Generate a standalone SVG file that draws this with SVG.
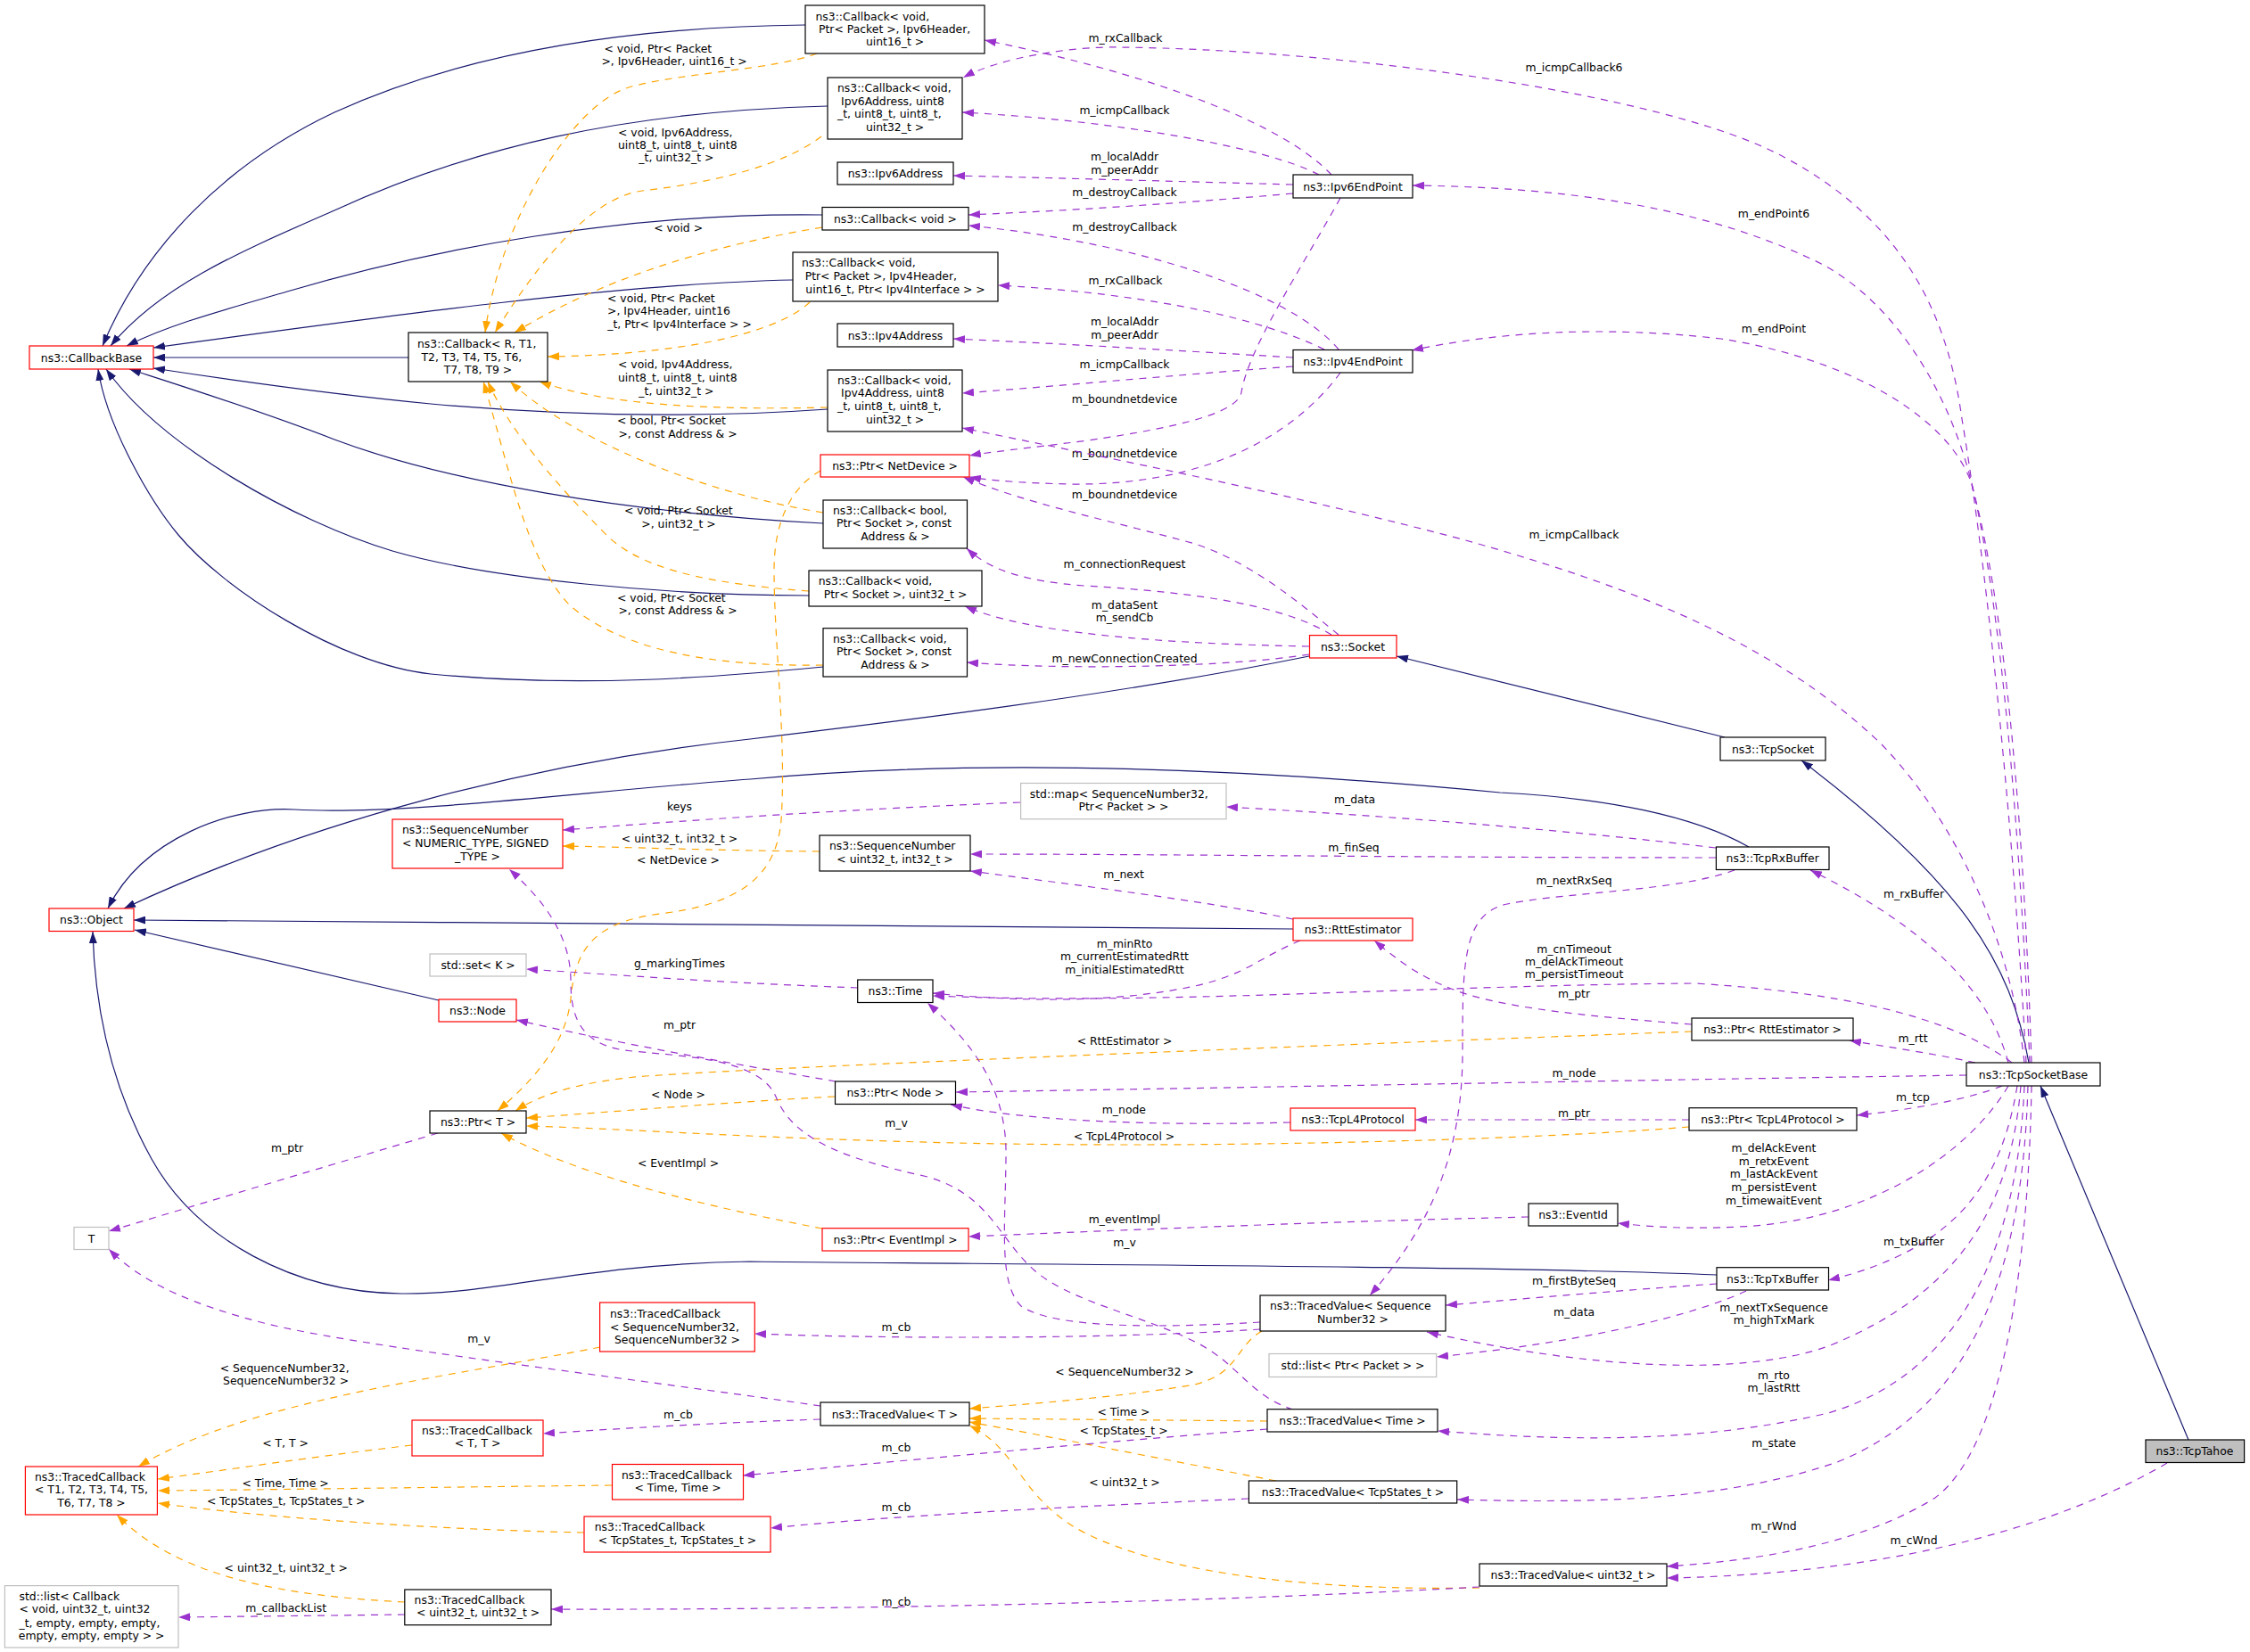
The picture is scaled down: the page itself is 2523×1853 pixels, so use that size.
<svg xmlns="http://www.w3.org/2000/svg" width="2523" height="1853" viewBox="0 0 2523 1853">
<style>
text{font-family:"DejaVu Sans","Liberation Sans",sans-serif;font-size:12.4px;dominant-baseline:central;fill:#000}
.m{text-anchor:middle}
.n rect{fill:#fff;stroke:#000;stroke-width:1.2}
.r rect{stroke:#ff0000}
.g rect{stroke:#bfbfbf}
.inh{fill:none;stroke:#191970;stroke-width:1.2;marker-end:url(#aN)}
.use{fill:none;stroke:#9a32cd;stroke-width:1.2;stroke-dasharray:8 7;marker-end:url(#aP)}
.tpl{fill:none;stroke:#ffa500;stroke-width:1.2;stroke-dasharray:8 7;marker-end:url(#aO)}
</style>
<defs>
<marker id="aN" viewBox="0 0 13 9" refX="13" refY="4.5" markerWidth="13" markerHeight="9" orient="auto" markerUnits="userSpaceOnUse"><path d="M0,0 L13,4.5 L0,9 z" fill="#191970"/></marker>
<marker id="aP" viewBox="0 0 13 9" refX="13" refY="4.5" markerWidth="13" markerHeight="9" orient="auto" markerUnits="userSpaceOnUse"><path d="M0,0 L13,4.5 L0,9 z" fill="#9a32cd"/></marker>
<marker id="aO" viewBox="0 0 13 9" refX="13" refY="4.5" markerWidth="13" markerHeight="9" orient="auto" markerUnits="userSpaceOnUse"><path d="M0,0 L13,4.5 L0,9 z" fill="#ffa500"/></marker>
</defs>
<rect width="2523" height="1853" fill="#fff"/>
<g id="connectors">
<!-- inheritance -->
<path class="inh" d="M903,28 C700,30 520,60 375,126 C250,185 160,280 115,388"/>
<path class="inh" d="M928,119 C700,125 530,165 375,236 C270,282 180,320 124,388"/>
<path class="inh" d="M922,241 C700,238 480,280 322,327 C250,348 190,364 142,388"/>
<path class="inh" d="M889,314 C700,318 450,352 172,390"/>
<path class="inh" d="M458,401 L172,401"/>
<path class="inh" d="M928,459 C800,468 650,468 483,453 C380,443 270,428 172,413"/>
<path class="inh" d="M923,587 C700,575 500,540 375,493 C290,460 210,435 145,414"/>
<path class="inh" d="M907,668 C750,668 550,650 440,618 C330,585 180,500 119,414"/>
<path class="inh" d="M923,748 C800,760 650,772 483,756 C380,745 250,660 200,600 C170,564 120,480 110,414"/>
<path class="inh" d="M1468,736 C1250,780 1000,810 841,829 C600,855 350,920 139,1019"/>
<path class="inh" d="M1961,950 C1900,915 1800,895 1682,889 C1400,862 1100,850 841,874 C650,888 450,915 330,908 C260,904 160,940 121,1019"/>
<path class="inh" d="M1450,1042 C1100,1040 600,1035 150,1032"/>
<path class="inh" d="M492,1122 L151,1043"/>
<path class="inh" d="M1925,1430 C1700,1420 1100,1418 841,1415 C650,1418 560,1452 450,1451 C330,1450 220,1390 170,1300 C120,1210 106,1120 104,1045"/>
<path class="inh" d="M1934,827 L1566,736"/>
<path class="inh" d="M2275,1192 C2255,1080 2200,990 2020,853"/>
<path class="inh" d="M2454,1615 L2288,1218"/>
<!-- templates -->
<g><path class="tpl" d="M916,60 C870,78 760,82 705,98 C640,118 560,250 544,373"/><text x="677.5" y="54.4">&lt; void, Ptr&lt; Packet</text><text class="m" x="756" y="68">&gt;, Ipv6Header, uint16_t &gt;</text></g>
<g><path class="tpl" d="M921,153 C880,185 800,205 720,214 C660,222 600,300 555,373"/><text x="693" y="148">&lt; void, Ipv6Address,</text><text x="693" y="162">uint8_t, uint8_t, uint8</text><text class="m" x="758.4" y="176.6">_t, uint32_t &gt;</text></g>
<g><path class="tpl" d="M922,255 C800,275 680,310 577,373"/><text class="m" x="760.6" y="255.4">&lt; void &gt;</text></g>
<g><path class="tpl" d="M908,339 C870,375 760,398 614,400"/><text x="681" y="334.6">&lt; void, Ptr&lt; Packet</text><text x="681" y="348.8">&gt;, Ipv4Header, uint16</text><text class="m" x="762" y="363.4">_t, Ptr&lt; Ipv4Interface &gt; &gt;</text></g>
<g><path class="tpl" d="M928,457 C800,460 680,455 605,428"/><text x="693" y="408">&lt; void, Ipv4Address,</text><text x="693" y="423.7">uint8_t, uint8_t, uint8</text><text class="m" x="758.4" y="438.6">_t, uint32_t &gt;</text></g>
<g><path class="tpl" d="M923,575 C800,555 650,500 572,428"/><text x="692" y="471">&lt; bool, Ptr&lt; Socket</text><text class="m" x="760" y="486">&gt;, const Address &amp; &gt;</text></g>
<g><path class="tpl" d="M907,663 C800,655 720,640 680,600 C620,540 570,480 547,428"/><text x="700" y="572">&lt; void, Ptr&lt; Socket</text><text class="m" x="761" y="587">&gt;, uint32_t &gt;</text></g>
<g><path class="tpl" d="M923,746 C800,748 700,730 640,680 C590,630 570,520 542,428"/><text x="692" y="670.4">&lt; void, Ptr&lt; Socket</text><text class="m" x="760" y="684.6">&gt;, const Address &amp; &gt;</text></g>
<g><path class="tpl" d="M919,955 C800,954 700,950 631,949"/><text class="m" x="762" y="940">&lt; uint32_t, int32_t &gt;</text></g>
<g><path class="tpl" d="M920,528 C890,545 868,580 868,640 C868,720 882,830 876,920 C870,990 820,1015 740,1025 C660,1035 645,1070 640,1120 C635,1170 600,1210 558,1246"/><text class="m" x="760.5" y="964.5">&lt; NetDevice &gt;</text></g>
<g><path class="tpl" d="M1897,1157 C1500,1172 900,1195 724,1207 C660,1212 610,1225 578,1246"/><text class="m" x="1261" y="1167">&lt; RttEstimator &gt;</text></g>
<g><path class="tpl" d="M936,1230 C820,1236 700,1246 590,1254"/><text class="m" x="760.5" y="1227">&lt; Node &gt;</text></g>
<g><path class="tpl" d="M1894,1264 C1700,1280 1300,1290 1000,1280 C800,1274 700,1266 590,1263"/><text class="m" x="1260.4" y="1274">&lt; TcpL4Protocol &gt;</text></g>
<g><path class="tpl" d="M922,1378 C800,1355 650,1320 562,1271"/><text class="m" x="760.5" y="1304.5">&lt; EventImpl &gt;</text></g>
<g><path class="tpl" d="M673,1511 C500,1545 280,1570 155,1645"/><text x="246.7" y="1534.7">&lt; SequenceNumber32,</text><text class="m" x="320.6" y="1548.4">SequenceNumber32 &gt;</text></g>
<g><path class="tpl" d="M462,1621 C350,1634 260,1648 177,1659"/><text class="m" x="320" y="1618">&lt; T, T &gt;</text></g>
<g><path class="tpl" d="M686,1666 C500,1668 300,1671 177,1672"/><text class="m" x="320" y="1663">&lt; Time, Time &gt;</text></g>
<g><path class="tpl" d="M655,1719 C500,1716 300,1703 177,1686"/><text class="m" x="320.7" y="1683.4">&lt; TcpStates_t, TcpStates_t &gt;</text></g>
<g><path class="tpl" d="M454,1797 C320,1790 200,1770 131,1699"/><text class="m" x="320.7" y="1758">&lt; uint32_t, uint32_t &gt;</text></g>
<g><path class="tpl" d="M1415,1493 C1385,1510 1390,1540 1340,1553 C1250,1568 1150,1575 1087,1580"/><text class="m" x="1261" y="1538">&lt; SequenceNumber32 &gt;</text></g>
<g><path class="tpl" d="M1421,1594 L1087,1591"/><text class="m" x="1260" y="1583.4">&lt; Time &gt;</text></g>
<g><path class="tpl" d="M1431,1661 C1300,1636 1180,1612 1087,1595"/><text class="m" x="1260" y="1604.3">&lt; TcpStates_t &gt;</text></g>
<g><path class="tpl" d="M1659,1781 C1450,1785 1280,1760 1200,1710 C1140,1670 1140,1625 1087,1599"/><text class="m" x="1261" y="1662">&lt; uint32_t &gt;</text></g>
<!-- usage -->
<g><path class="use" d="M1493,196 C1440,140 1300,85 1104,45"/><text class="m" x="1262" y="42.5">m_rxCallback</text></g>
<g><path class="use" d="M1479,196 C1420,165 1250,135 1079,126"/><text class="m" x="1261" y="123">m_icmpCallback</text></g>
<g><path class="use" d="M1450,207 C1300,203 1200,200 1069,197"/><text class="m" x="1261" y="175">m_localAddr</text><text class="m" x="1261" y="190">m_peerAddr</text></g>
<g><path class="use" d="M1450,217 C1300,230 1200,236 1086,241"/><text class="m" x="1261" y="215.6">m_destroyCallback</text></g>
<g><path class="use" d="M1503,222 C1460,300 1400,390 1392,440 C1388,462 1330,478 1220,494 C1150,503 1110,507 1087,511"/><text class="m" x="1261" y="447">m_boundnetdevice</text></g>
<g><path class="use" d="M1501,392 C1450,330 1280,272 1086,253"/><text class="m" x="1261" y="254.6">m_destroyCallback</text></g>
<g><path class="use" d="M1485,392 C1420,360 1300,330 1119,320"/><text class="m" x="1262" y="314.5">m_rxCallback</text></g>
<g><path class="use" d="M1450,401 C1300,392 1200,386 1069,380"/><text class="m" x="1261" y="360">m_localAddr</text><text class="m" x="1261" y="375">m_peerAddr</text></g>
<g><path class="use" d="M1450,411 C1300,422 1200,432 1079,441"/><text class="m" x="1261" y="408">m_icmpCallback</text></g>
<g><path class="use" d="M1503,418 C1450,490 1350,545 1200,543 C1150,542 1110,539 1087,535"/><text class="m" x="1261" y="508">m_boundnetdevice</text></g>
<g><path class="use" d="M1501,712 C1450,670 1400,630 1340,610 C1250,585 1150,565 1080,535"/><text class="m" x="1261" y="554.5">m_boundnetdevice</text></g>
<g><path class="use" d="M1493,712 C1440,680 1350,665 1216,657 C1150,652 1110,640 1084,615"/><text class="m" x="1261" y="632.6">m_connectionRequest</text></g>
<g><path class="use" d="M1468,725 C1300,722 1150,710 1082,680"/><text class="m" x="1261" y="678.7">m_dataSent</text><text class="m" x="1261" y="692.5">m_sendCb</text></g>
<g><path class="use" d="M1468,734 C1380,748 1200,752 1084,743"/><text class="m" x="1261" y="738">m_newConnectionCreated</text></g>
<g><path class="use" d="M2272,1192 C2262,1000 2235,680 2200,470 C2185,360 2140,250 2000,176 C1870,105 1500,55 1254,53 C1200,52 1120,65 1080,87"/><text class="m" x="1765" y="75">m_icmpCallback6</text></g>
<g><path class="use" d="M2276,1192 C2268,1000 2250,720 2215,560 C2190,440 2120,330 2030,290 C1900,230 1750,210 1584,208"/><text class="m" x="1989" y="239">m_endPoint6</text></g>
<g><path class="use" d="M2278,1192 C2272,1000 2255,700 2210,540 C2180,460 2060,400 1930,380 C1800,365 1680,372 1583,393"/><text class="m" x="1989" y="368.5">m_endPoint</text></g>
<g><path class="use" d="M2270,1192 C2258,1080 2210,940 2110,835 C1980,710 1800,650 1640,605 C1450,555 1250,515 1079,480"/><text class="m" x="1765" y="599.5">m_icmpCallback</text></g>
<g><path class="use" d="M2252,1192 C2230,1110 2160,1040 2030,976"/><text class="m" x="2146" y="1002">m_rxBuffer</text></g>
<g><path class="use" d="M2256,1192 C2200,1150 2100,1115 1900,1103 C1600,1105 1300,1128 1046,1117"/><text class="m" x="1765" y="1064">m_cnTimeout</text><text class="m" x="1765" y="1078">m_delAckTimeout</text><text class="m" x="1765" y="1092.5">m_persistTimeout</text></g>
<g><path class="use" d="M2215,1192 C2170,1182 2120,1175 2074,1167"/><text class="m" x="2145" y="1164.6">m_rtt</text></g>
<g><path class="use" d="M2205,1206 C1800,1212 1400,1220 1072,1225"/><text class="m" x="1765" y="1203.6">m_node</text></g>
<g><path class="use" d="M2245,1218 C2210,1232 2150,1244 2082,1251"/><text class="m" x="2145" y="1230">m_tcp</text></g>
<g><path class="use" d="M2252,1218 C2210,1290 2100,1370 1950,1376 C1890,1379 1850,1376 1814,1372"/><text class="m" x="1989" y="1287.5">m_delAckEvent</text><text class="m" x="1989" y="1302.5">m_retxEvent</text><text class="m" x="1989" y="1316.7">m_lastAckEvent</text><text class="m" x="1989" y="1331.6">m_persistEvent</text><text class="m" x="1989" y="1346.6">m_timewaitEvent</text></g>
<g><path class="use" d="M2262,1218 C2245,1320 2200,1400 2050,1436"/><text class="m" x="2146" y="1392">m_txBuffer</text></g>
<g><path class="use" d="M2266,1218 C2255,1350 2200,1450 2050,1510 C1950,1545 1780,1535 1600,1494"/><text class="m" x="1989" y="1466.6">m_nextTxSequence</text><text class="m" x="1989" y="1480.4">m_highTxMark</text></g>
<g><path class="use" d="M2270,1218 C2262,1400 2200,1540 2050,1585 C1900,1620 1750,1616 1612,1605"/><text class="m" x="1989" y="1542">m_rto</text><text class="m" x="1989" y="1556">m_lastRtt</text></g>
<g><path class="use" d="M2274,1218 C2268,1430 2210,1580 2060,1640 C1930,1685 1780,1686 1634,1682"/><text class="m" x="1989" y="1618.5">m_state</text></g>
<g><path class="use" d="M2278,1218 C2275,1400 2250,1620 2170,1680 C2090,1730 1980,1750 1869,1757"/><text class="m" x="1989" y="1711">m_rWnd</text></g>
<g><path class="use" d="M2430,1641 C2330,1700 2150,1765 1869,1770"/><text class="m" x="2146" y="1727.5">m_cWnd</text></g>
<g><path class="use" d="M1924,951 C1750,930 1550,915 1375,905"/><text class="m" x="1519" y="896.6">m_data</text></g>
<g><path class="use" d="M1924,962 C1600,962 1300,958 1088,958"/><text class="m" x="1518" y="950">m_finSeq</text></g>
<g><path class="use" d="M1945,976 C1880,1000 1760,1000 1690,1014 C1640,1025 1640,1080 1640,1180 C1640,1300 1600,1380 1536,1453"/><text class="m" x="1765" y="987.7">m_nextRxSeq</text></g>
<g><path class="use" d="M1144,900 C950,908 800,918 631,931"/><text class="m" x="762" y="904.5">keys</text></g>
<g><path class="use" d="M1450,1031 C1350,1010 1200,992 1088,977"/><text class="m" x="1260" y="980">m_next</text></g>
<g><path class="use" d="M1458,1055 C1410,1075 1400,1092 1340,1106 C1250,1125 1150,1124 1046,1114"/><text class="m" x="1261" y="1058">m_minRto</text><text class="m" x="1261" y="1072.4">m_currentEstimatedRtt</text><text class="m" x="1261" y="1087.4">m_initialEstimatedRtt</text></g>
<g><path class="use" d="M1897,1149 C1780,1140 1680,1130 1630,1110 C1590,1095 1565,1075 1541,1055"/><text class="m" x="1765" y="1114.6">m_ptr</text></g>
<g><path class="use" d="M962,1108 C800,1102 700,1094 590,1087"/><text class="m" x="762" y="1080.7">g_markingTimes</text></g>
<g><path class="use" d="M937,1213 C850,1198 700,1172 579,1144"/><text class="m" x="762" y="1149">m_ptr</text></g>
<g><path class="use" d="M1447,1259 C1300,1263 1150,1258 1066,1239"/><text class="m" x="1260.4" y="1244">m_node</text></g>
<g><path class="use" d="M1894,1256 L1587,1256"/><text class="m" x="1765" y="1248">m_ptr</text></g>
<g><path class="use" d="M491,1271 L122,1381"/><text class="m" x="322" y="1287.5">m_ptr</text></g>
<g><path class="use" d="M1714,1365 C1500,1370 1300,1378 1086,1387"/><text class="m" x="1261" y="1367.4">m_eventImpl</text></g>
<g><path class="use" d="M1925,1440 C1820,1447 1720,1456 1621,1464"/><text class="m" x="1765" y="1436">m_firstByteSeq</text></g>
<g><path class="use" d="M1958,1448 C1900,1475 1780,1505 1611,1522"/><text class="m" x="1765" y="1471.7">m_data</text></g>
<g><path class="use" d="M1450,1581 C1400,1565 1390,1530 1340,1505 C1280,1475 1200,1460 1160,1425 C1120,1390 1110,1340 1040,1320 C950,1300 890,1280 870,1230 C850,1185 760,1185 700,1178 C650,1170 640,1140 640,1100 C640,1050 610,1010 571,975"/><text class="m" x="1005" y="1259">m_v</text></g>
<g><path class="use" d="M1413,1483 C1300,1490 1180,1490 1145,1465 C1120,1440 1127,1380 1128,1300 C1130,1220 1090,1170 1040,1125"/><text class="m" x="1261" y="1393">m_v</text></g>
<g><path class="use" d="M920,1577 C700,1545 400,1510 300,1485 C220,1465 160,1440 122,1401"/><text class="m" x="537" y="1501">m_v</text></g>
<g><path class="use" d="M920,1592 C800,1596 700,1602 609,1608"/><text class="m" x="760.5" y="1586">m_cb</text></g>
<g><path class="use" d="M1413,1491 C1250,1502 1000,1502 846,1496"/><text class="m" x="1005" y="1488">m_cb</text></g>
<g><path class="use" d="M1421,1603 C1200,1620 1000,1640 833,1655"/><text class="m" x="1005" y="1623">m_cb</text></g>
<g><path class="use" d="M1400,1681 C1200,1690 1000,1700 864,1714"/><text class="m" x="1005" y="1690.5">m_cb</text></g>
<g><path class="use" d="M1659,1780 C1400,1795 1000,1806 618,1805"/><text class="m" x="1005" y="1796.7">m_cb</text></g>
<g><path class="use" d="M454,1811 L200,1814"/><text class="m" x="320.7" y="1803.4">m_callbackList</text></g>
</g>
<g id="nodes">
<g id="cb_ipv6hdr" class="n"><rect x="903" y="6" width="201" height="54"/><text x="914.5" y="18">ns3::Callback&lt; void,</text><text x="918" y="32">Ptr&lt; Packet &gt;, Ipv6Header,</text><text class="m" x="1003.5" y="46.5">uint16_t &gt;</text></g>
<g id="cb_ipv6addr" class="n"><rect x="928" y="87" width="151" height="69"/><text x="939" y="98.5">ns3::Callback&lt; void,</text><text x="943" y="113">Ipv6Address, uint8</text><text x="939" y="127">_t, uint8_t, uint8_t,</text><text class="m" x="1003.5" y="142">uint32_t &gt;</text></g>
<g id="ipv6address" class="n"><rect x="939" y="182" width="130" height="25"/><text class="m" x="1004" y="194.5">ns3::Ipv6Address</text></g>
<g id="cb_void" class="n"><rect x="922" y="232.5" width="164" height="25.5"/><text class="m" x="1004" y="245">ns3::Callback&lt; void &gt;</text></g>
<g id="cb_ipv4hdr" class="n"><rect x="889" y="283" width="230" height="55"/><text x="899" y="294.4">ns3::Callback&lt; void,</text><text x="902.7" y="309.4">Ptr&lt; Packet &gt;, Ipv4Header,</text><text class="m" x="1004" y="324.4">uint16_t, Ptr&lt; Ipv4Interface &gt; &gt;</text></g>
<g id="ipv4address" class="n"><rect x="939" y="363" width="130" height="26"/><text class="m" x="1004" y="376">ns3::Ipv4Address</text></g>
<g id="cb_ipv4addr" class="n"><rect x="928" y="415" width="151" height="69"/><text x="939" y="426.4">ns3::Callback&lt; void,</text><text x="943" y="440.6">Ipv4Address, uint8</text><text x="939" y="455.6">_t, uint8_t, uint8_t,</text><text class="m" x="1003.5" y="470.2">uint32_t &gt;</text></g>
<g id="ptr_netdevice" class="n r"><rect x="920" y="510" width="167" height="25"/><text class="m" x="1003.5" y="522.5">ns3::Ptr&lt; NetDevice &gt;</text></g>
<g id="cb_bool" class="n"><rect x="923" y="561" width="161.5" height="54"/><text x="934" y="572.3">ns3::Callback&lt; bool,</text><text x="938" y="586.4">Ptr&lt; Socket &gt;, const</text><text class="m" x="1004" y="601.4">Address &amp; &gt;</text></g>
<g id="ipv6endpoint" class="n"><rect x="1450" y="196" width="134" height="26"/><text class="m" x="1517" y="209">ns3::Ipv6EndPoint</text></g>
<g id="ipv4endpoint" class="n"><rect x="1450" y="392.5" width="134" height="25.5"/><text class="m" x="1517" y="405.2">ns3::Ipv4EndPoint</text></g>
<g id="callbackbase" class="n r"><rect x="33" y="388" width="139" height="26"/><text class="m" x="102.5" y="401">ns3::CallbackBase</text></g>
<g id="cb_generic" class="n"><rect x="458" y="373" width="156" height="55"/><text x="468" y="385.4">ns3::Callback&lt; R, T1,</text><text x="472.5" y="400.8">T2, T3, T4, T5, T6,</text><text class="m" x="536" y="414.6">T7, T8, T9 &gt;</text></g>
<g id="cb_sock_u32" class="n"><rect x="907" y="640" width="194" height="40"/><text x="917.7" y="651.5">ns3::Callback&lt; void,</text><text class="m" x="1004" y="666.5">Ptr&lt; Socket &gt;, uint32_t &gt;</text></g>
<g id="cb_sock_addr" class="n"><rect x="923" y="704.7" width="161.5" height="54.3"/><text x="934" y="716.5">ns3::Callback&lt; void,</text><text x="938" y="730.7">Ptr&lt; Socket &gt;, const</text><text class="m" x="1004" y="745.3">Address &amp; &gt;</text></g>
<g id="socket" class="n r"><rect x="1468.5" y="712.6" width="97.5" height="25.4"/><text class="m" x="1517" y="725.3">ns3::Socket</text></g>
<g id="stdmap" class="n g"><rect x="1144.6" y="878.5" width="230.4" height="40.2"/><text x="1154.8" y="890.3">std::map&lt; SequenceNumber32,</text><text class="m" x="1260" y="904.5">Ptr&lt; Packet &gt; &gt;</text></g>
<g id="seqnum_generic" class="n r"><rect x="440" y="919" width="191" height="55"/><text x="451" y="930.5">ns3::SequenceNumber</text><text x="451" y="945.5">&lt; NUMERIC_TYPE, SIGNED</text><text class="m" x="535.5" y="960.5">_TYPE &gt;</text></g>
<g id="seqnum_u32" class="n"><rect x="919" y="937" width="169" height="40"/><text x="930" y="948.3">ns3::SequenceNumber</text><text class="m" x="1003.5" y="963.3">&lt; uint32_t, int32_t &gt;</text></g>
<g id="tcpsocket" class="n"><rect x="1929" y="827" width="118" height="26"/><text class="m" x="1988" y="840">ns3::TcpSocket</text></g>
<g id="tcprxbuffer" class="n"><rect x="1924.4" y="950" width="126.6" height="25.5"/><text class="m" x="1987.7" y="962.7">ns3::TcpRxBuffer</text></g>
<g id="object" class="n r"><rect x="55" y="1019" width="95" height="25.5"/><text class="m" x="102.5" y="1031.7">ns3::Object</text></g>
<g id="rttestimator" class="n r"><rect x="1450" y="1030" width="134" height="25"/><text class="m" x="1517" y="1042.5">ns3::RttEstimator</text></g>
<g id="stdset" class="n g"><rect x="482" y="1070" width="108" height="25"/><text class="m" x="536" y="1082.5">std::set&lt; K &gt;</text></g>
<g id="time" class="n"><rect x="961.7" y="1099" width="84.3" height="25.5"/><text class="m" x="1004" y="1111.7">ns3::Time</text></g>
<g id="node" class="n r"><rect x="492" y="1121" width="87" height="25"/><text class="m" x="535.5" y="1133.5">ns3::Node</text></g>
<g id="ptr_rtt" class="n"><rect x="1897" y="1142" width="181" height="25"/><text class="m" x="1987.5" y="1154.5">ns3::Ptr&lt; RttEstimator &gt;</text></g>
<g id="tcpsocketbase" class="n"><rect x="2205" y="1192" width="150" height="26"/><text class="m" x="2280" y="1205">ns3::TcpSocketBase</text></g>
<g id="ptr_node" class="n"><rect x="936.5" y="1213" width="135" height="25.5"/><text class="m" x="1004" y="1225.7">ns3::Ptr&lt; Node &gt;</text></g>
<g id="tcpl4protocol" class="n r"><rect x="1447" y="1243" width="140" height="25"/><text class="m" x="1517" y="1255.5">ns3::TcpL4Protocol</text></g>
<g id="ptr_tcpl4" class="n"><rect x="1894" y="1242.7" width="188" height="25.3"/><text class="m" x="1988" y="1255.4">ns3::Ptr&lt; TcpL4Protocol &gt;</text></g>
<g id="ptr_t" class="n"><rect x="482" y="1246" width="108" height="25"/><text class="m" x="536" y="1258.5">ns3::Ptr&lt; T &gt;</text></g>
<g id="eventid" class="n"><rect x="1714" y="1350" width="100" height="25"/><text class="m" x="1764" y="1362.5">ns3::EventId</text></g>
<g id="t" class="n g"><rect x="83" y="1376.5" width="39" height="25"/><text class="m" x="102.5" y="1389">T</text></g>
<g id="ptr_eventimpl" class="n r"><rect x="922" y="1377.7" width="164" height="25.3"/><text class="m" x="1004" y="1390.3">ns3::Ptr&lt; EventImpl &gt;</text></g>
<g id="tcptxbuffer" class="n"><rect x="1925" y="1421.7" width="125.5" height="25.3"/><text class="m" x="1987.7" y="1434.3">ns3::TcpTxBuffer</text></g>
<g id="tv_seq" class="n"><rect x="1413" y="1453" width="208" height="40"/><text x="1424" y="1464.6">ns3::TracedValue&lt; Sequence</text><text class="m" x="1517" y="1479">Number32 &gt;</text></g>
<g id="tc_seq" class="n r"><rect x="672.6" y="1461" width="173.7" height="55"/><text x="684" y="1473.3">ns3::TracedCallback</text><text x="684" y="1488.2">&lt; SequenceNumber32,</text><text class="m" x="759.5" y="1502.8">SequenceNumber32 &gt;</text></g>
<g id="stdlist_pkt" class="n g"><rect x="1423" y="1518.5" width="187.7" height="26"/><text class="m" x="1517" y="1531.5">std::list&lt; Ptr&lt; Packet &gt; &gt;</text></g>
<g id="tv_t" class="n"><rect x="920" y="1573" width="167" height="26"/><text class="m" x="1003.5" y="1586">ns3::TracedValue&lt; T &gt;</text></g>
<g id="tv_time" class="n"><rect x="1421" y="1580.7" width="191" height="25.3"/><text class="m" x="1516.5" y="1593.3">ns3::TracedValue&lt; Time &gt;</text></g>
<g id="tc_tt" class="n r"><rect x="462" y="1593" width="147" height="40"/><text x="473" y="1604.7">ns3::TracedCallback</text><text class="m" x="535.5" y="1618.9">&lt; T, T &gt;</text></g>
<g id="tc_generic" class="n r"><rect x="28.4" y="1645" width="148" height="54"/><text x="39" y="1656.6">ns3::TracedCallback</text><text x="39" y="1670.8">&lt; T1, T2, T3, T4, T5,</text><text class="m" x="102.5" y="1685.4">T6, T7, T8 &gt;</text></g>
<g id="tc_timetime" class="n r"><rect x="686.5" y="1642.5" width="147" height="39.5"/><text x="697" y="1654.3">ns3::TracedCallback</text><text class="m" x="760" y="1668.4">&lt; Time, Time &gt;</text></g>
<g id="tv_states" class="n"><rect x="1400.4" y="1661" width="233.3" height="25"/><text class="m" x="1517" y="1673.5">ns3::TracedValue&lt; TcpStates_t &gt;</text></g>
<g id="tc_states" class="n r"><rect x="655" y="1701" width="209" height="40"/><text x="666.7" y="1712.5">ns3::TracedCallback</text><text class="m" x="759.5" y="1727.5">&lt; TcpStates_t, TcpStates_t &gt;</text></g>
<g id="tcptahoe" class="n"><rect x="2406" y="1615" width="110.6" height="25.5" style="fill:#bfbfbf"/><text class="m" x="2461" y="1627.7">ns3::TcpTahoe</text></g>
<g id="tv_u32" class="n"><rect x="1659" y="1754" width="210" height="25"/><text class="m" x="1764" y="1766.5">ns3::TracedValue&lt; uint32_t &gt;</text></g>
<g id="stdlist_cb" class="n g"><rect x="5.4" y="1778.6" width="194.6" height="69.4"/><text x="21.5" y="1790.8">std::list&lt; Callback</text><text x="21.5" y="1804.6">&lt; void, uint32_t, uint32</text><text x="21.5" y="1820">_t, empty, empty, empty,</text><text class="m" x="102.7" y="1834.9">empty, empty, empty &gt; &gt;</text></g>
<g id="tc_u32" class="n"><rect x="453.8" y="1783" width="164.2" height="39.7"/><text x="464.6" y="1794.8">ns3::TracedCallback</text><text class="m" x="536" y="1808.5">&lt; uint32_t, uint32_t &gt;</text></g>
</g>
</svg>
